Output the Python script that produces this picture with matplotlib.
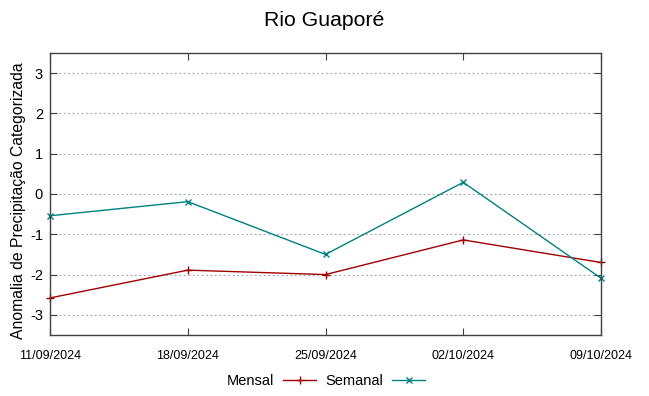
import matplotlib
matplotlib.use("Agg")
import matplotlib.pyplot as plt

plt.rcParams['font.family'] = ['Liberation Sans', 'DejaVu Sans']

dates = ["11/09/2024", "18/09/2024", "25/09/2024", "02/10/2024", "09/10/2024"]
mensal = [-2.58, -1.89, -2.0, -1.14, -1.70]
semanal = [-0.54, -0.19, -1.50, 0.29, -2.09]
yticks = [-3, -2, -1, 0, 1, 2, 3]

fig = plt.figure(figsize=(6.49, 3.96), dpi=100)
ax = fig.add_axes([50/649, 1-335/396, 551/649, 282/396])

x = list(range(len(dates)))
ax.plot(x, mensal, color='#a00000', lw=1.0, marker='+', ms=6, mew=1.0, label='Mensal', clip_on=False)
ax.plot(x, semanal, color='#008080', lw=1.0, marker='x', ms=5, mew=1.0, label='Semanal', clip_on=False)

ax.set_xlim(0, len(dates)-1)
ax.set_ylim(-3.5, 3.5)
ax.set_xticks(x)
ax.set_xticklabels(dates, fontsize=9)
ax.set_yticks(yticks)
ax.set_yticklabels([str(v) for v in yticks], fontsize=10.5)
ax.tick_params(direction='in', top=True, right=True, length=5, width=0.8, color='#404040')
ax.tick_params(axis='x', pad=11)
ax.tick_params(axis='y', pad=5)
ax.yaxis.grid(True, linestyle=(0, (1.5, 2.5)), color='#a0a0a0', lw=0.8)
for s in ax.spines.values():
    s.set_color('#404040')
    s.set_linewidth(1.0)

ax.set_ylabel('Anomalia de Precipitação Categorizada', fontsize=11.3)
ax.yaxis.set_label_coords((26-50)/551, (335-201)/282)
fig.text(0.5, 1-20/396, 'Rio Guaporé', ha='center', va='center', fontsize=15.3)

leg = fig.legend(loc='center', bbox_to_anchor=(326/649, 1-381/396), ncol=2, frameon=False,
                 markerfirst=False, fontsize=10.5, handlelength=2.3, columnspacing=0.6,
                 handletextpad=0.6)

fig.savefig('out.png', dpi=100)
